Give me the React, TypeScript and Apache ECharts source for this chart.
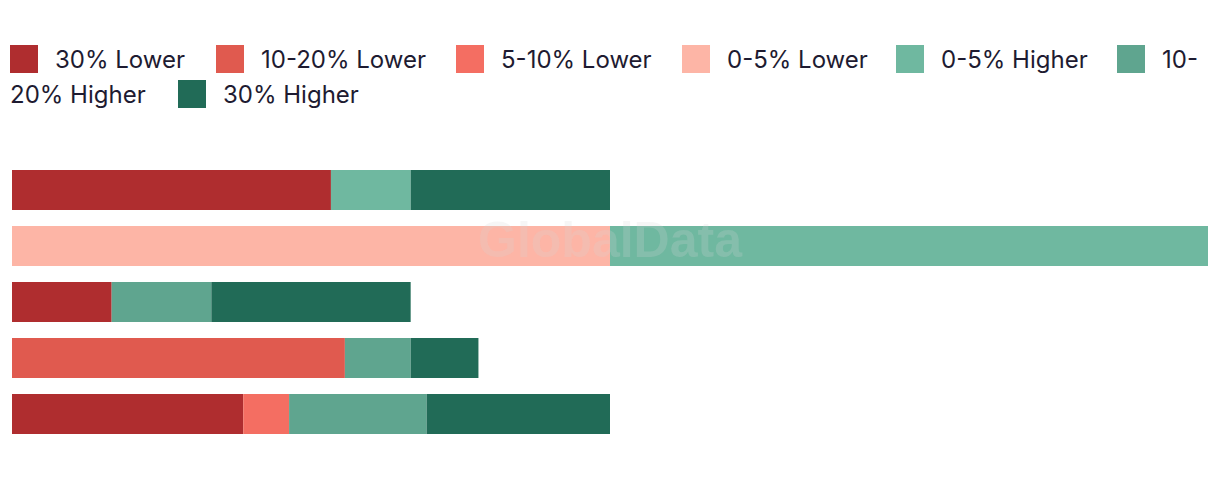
import React, { useEffect, useRef } from "react";
import * as echarts from "echarts";

const categories = ["Row 1", "Row 2", "Row 3", "Row 4", "Row 5"];
const seriesNames = [
  "30% Lower",
  "10-20% Lower",
  "5-10% Lower",
  "0-5% Lower",
  "0-5% Higher",
  "10-20% Higher",
  "30% Higher",
];
const colors = ["#AF2D2F", "#E05A4F", "#F46E62", "#FDB5A6", "#6FB8A0", "#5FA58F", "#216B57"];

const lower30 = [1.6, 0, 0.5, 0, 1.16];
const lower10_20 = [0, 0, 0, 1.67, 0];
const lower5_10 = [0, 0, 0, 0, 0.23];
const lower0_5 = [0, 3, 0, 0, 0];
const higher0_5 = [0.4, 3, 0, 0, 0];
const higher10_20 = [0, 0, 0.5, 0.33, 0.69];
const higher30 = [1.0, 0, 1.0, 0.34, 0.92];

const seriesValues = [lower30, lower10_20, lower5_10, lower0_5, higher0_5, higher10_20, higher30];

const legendLefts = [10, 216, 456, 682, 896, 1117, 178];
const legendTops = [45, 45, 45, 45, 45, 45, 80];

const FONT = "Inter, 'Noto Sans', sans-serif";
const TEXT_COLOR = "#1e1b31";

export default function App() {
  const ref = useRef<HTMLDivElement>(null);
  useEffect(() => {
    if (!ref.current) return;
    const chart = echarts.init(ref.current, undefined, { renderer: "svg" });
    const legends = seriesNames.map((name, i) => ({
      data: [name],
      left: legendLefts[i],
      top: legendTops[i],
      padding: 0,
      icon: "rect",
      itemWidth: 28,
      itemHeight: 28,
      selectedMode: false,
      formatter: (n: string) => (n === "10-20% Higher" ? "10-" : n),
      textStyle: {
        fontSize: 24,
        fontFamily: FONT,
        color: TEXT_COLOR,
        padding: [0, 0, 0, 12],
      },
    }));
    chart.setOption({
      animation: false,
      color: colors,
      legend: legends,
      grid: { left: 12, right: 12, top: 162, bottom: 36, containLabel: false },
      xAxis: {
        type: "value",
        min: 0,
        max: 6,
        show: false,
      },
      yAxis: {
        type: "category",
        data: categories,
        inverse: true,
        show: false,
      },
      graphic: [
        {
          type: "text",
          left: 10,
          top: 80,
          style: {
            text: "20% Higher",
            font: `24px ${FONT}`,
            fill: TEXT_COLOR,
            lineHeight: 28,
            height: 28,
            verticalAlign: "middle",
          },
        },
        {
          type: "text",
          x: 610,
          y: 240,
          z: 100,
          style: {
            text: "GlobalData",
            font: "bold 50px 'Liberation Sans', Arial, sans-serif",
            fill: "#d8d8d8",
            opacity: 0.22,
            align: "center",
            verticalAlign: "middle",
          },
        },
      ],
      series: seriesNames.map((name, i) => ({
        name,
        type: "bar",
        stack: "total",
        barWidth: 40,
        data: seriesValues[i],
        itemStyle: { color: colors[i] },
        emphasis: { disabled: true },
      })),
    });
    return () => chart.dispose();
  }, []);
  return (
    <div
      ref={ref}
      style={{ position: "absolute", left: 0, top: 0, width: 1220, height: 478 }}
    />
  );
}
